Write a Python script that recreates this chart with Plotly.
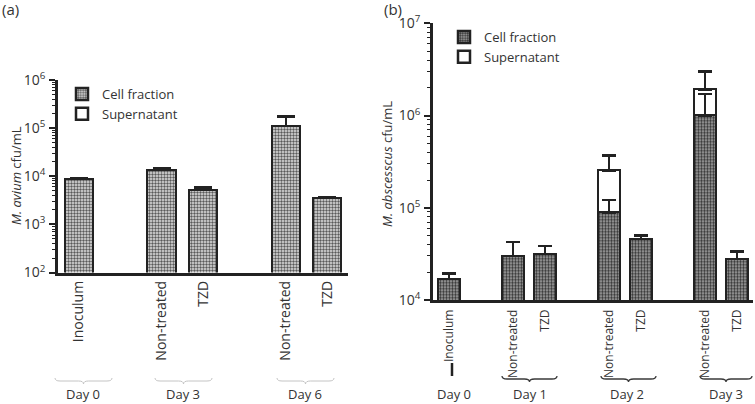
import plotly.graph_objects as go

W, H = 755, 404

# ---------------- data ----------------
# Panel (a): M. avium
a_days = ["Day 0", "Day 3", "Day 3", "Day 6", "Day 6"]
a_groups = ["Inoculum", "Non-treated", "TZD", "Non-treated", "TZD"]
a_cell = [8.8e3, 1.38e4, 5.3e3, 1.1e5, 3.5e3]
a_cell_err = [400, 1.0e3, 500, 6.4e4, 250]
a_sup = [None, None, None, None, None]

# Panel (b): M. abscessus
b_days = ["Day 0", "Day 1", "Day 1", "Day 2", "Day 2", "Day 3", "Day 3"]
b_groups = ["Inoculum", "Non-treated", "TZD", "Non-treated", "TZD", "Non-treated", "TZD"]
b_cell = [1.68e4, 3.0e4, 3.15e4, 8.9e4, 4.6e4, 1.0e6, 2.77e4]
b_cell_err = [2.7e3, 1.25e4, 7.0e3, 3.3e4, 4.0e3, 7.2e5, 6.0e3]
b_sup = [None, None, None, 1.63e5, None, 9.2e5, None]
b_sup_err = [None, None, None, 1.15e5, None, 1.07e6, None]

a_yticks = [1e2, 1e3, 1e4, 1e5, 1e6]
a_yticktext = ["10<sup>2</sup>", "10<sup>3</sup>", "10<sup>4</sup>", "10<sup>5</sup>", "10<sup>6</sup>"]
b_yticks = [1e4, 1e5, 1e6, 1e7]
b_yticktext = ["10<sup>4</sup>", "10<sup>5</sup>", "10<sup>6</sup>", "10<sup>7</sup>"]

# ---------------- helpers ----------------
FONT = "Open Sans"
TXT = "#333333"
LINE = "#222222"


def px(x):
    return x / W


def py(y):
    return 1 - y / H


def build_order(days, groups):
    order, gaps, keys = [], [], []
    prev = None
    for d, g in zip(days, groups):
        if prev is not None and d != prev:
            k = "gap%d" % len(gaps)
            gaps.append(k)
            order.append(k)
        key = d + "|" + g
        keys.append(key)
        order.append(key)
        prev = d
    return order, gaps, keys


a_order, a_gaps, a_keys = build_order(a_days, a_groups)
b_order, b_gaps, b_keys = build_order(b_days, b_groups)

fig = go.Figure()

pat_a = dict(shape=".", size=3, solidity=0.5, fgcolor="#5a5a5a", bgcolor="#e2e2e2")
pat_b = dict(shape=".", size=3, solidity=0.5, fgcolor="#333333", bgcolor="#a8a8a8")


def zeros(v):
    return [0 if e is not None else None for e in v]


fig.add_trace(go.Bar(
    x=a_keys, y=a_cell, name="Cell fraction", xaxis="x", yaxis="y",
    width=0.68, legend="legend",
    marker=dict(color="#e2e2e2", pattern=pat_a, line=dict(color=LINE, width=2.5)),
    error_y=dict(type="data", symmetric=False, array=a_cell_err, arrayminus=zeros(a_cell_err),
                 color=LINE, thickness=2.5, width=9),
))
fig.add_trace(go.Bar(
    x=a_keys, y=a_sup, name="Supernatant", xaxis="x", yaxis="y",
    width=0.68, legend="legend",
    marker=dict(color="rgba(255,255,255,0)", line=dict(color=LINE, width=2.5)),
))
fig.add_trace(go.Bar(
    x=b_keys, y=b_cell, name="Cell fraction", xaxis="x2", yaxis="y2",
    width=0.70, legend="legend2",
    marker=dict(color="#a8a8a8", pattern=pat_b, line=dict(color=LINE, width=2.5)),
    error_y=dict(type="data", symmetric=False, array=b_cell_err, arrayminus=zeros(b_cell_err),
                 color=LINE, thickness=2.5, width=7),
))
fig.add_trace(go.Bar(
    x=b_keys, y=b_sup, name="Supernatant", xaxis="x2", yaxis="y2",
    width=0.70, legend="legend2",
    marker=dict(color="rgba(255,255,255,0)", line=dict(color=LINE, width=2.5)),
    error_y=dict(type="data", symmetric=False, array=b_sup_err, arrayminus=zeros(b_sup_err),
                 color=LINE, thickness=2.5, width=7),
))

xa_dom = [px(58), px(348)]
xb_dom = [px(433), px(753)]
ya_dom = [py(272.5), py(80)]
yb_dom = [py(300), py(23.3)]

common_x = dict(type="category", categoryorder="array", showline=True, linewidth=2.5,
                linecolor=LINE, ticks="", tickangle=-90, showgrid=False, zeroline=False,
                fixedrange=True, automargin=False)
common_y = dict(type="log", showline=True, linewidth=2.5, linecolor=LINE, ticks="outside",
                ticklen=6, tickwidth=2, tickcolor=LINE, showgrid=False, zeroline=False,
                tickmode="array", tickfont=dict(size=14, color=TXT, family=FONT),
                automargin=False, ticklabelstandoff=1,
                minor=dict(ticks="outside", ticklen=3, tickwidth=1.3, tickcolor=LINE,
                           dtick="D1", showgrid=False))

gap_ax = dict(type="linear", showline=False, ticks="outside", ticklen=5, tickwidth=2,
              tickcolor=LINE, showticklabels=False, showgrid=False, zeroline=False,
              tickmode="array", automargin=False)

fig.update_layout(
    template="none",
    width=W, height=H, margin=dict(l=0, r=0, t=0, b=0, pad=0, autoexpand=False),
    paper_bgcolor="white", plot_bgcolor="white",
    barmode="stack", bargap=0,
    font=dict(family=FONT, size=13, color=TXT),
    xaxis=dict(common_x, domain=xa_dom, anchor="y", categoryarray=a_order,
               range=[-0.5, len(a_order) - 0.5], tickvals=a_keys, ticktext=a_groups,
               ticklabelstandoff=0, tickfont=dict(size=14, color=TXT, family=FONT)),
    yaxis=dict(common_y, domain=ya_dom, anchor="x", range=[2, 6],
               tickvals=a_yticks, ticktext=a_yticktext),
    xaxis2=dict(common_x, domain=xb_dom, anchor="y2", categoryarray=b_order,
                range=[-0.5, len(b_order) - 0.5], tickvals=b_keys, ticktext=b_groups,
                ticklabelstandoff=2, tickfont=dict(size=12, color=TXT, family=FONT)),
    yaxis2=dict(common_y, domain=yb_dom, anchor="x2", range=[4, 7],
                tickvals=b_yticks, ticktext=b_yticktext),
    xaxis3=dict(gap_ax, overlaying="x", anchor="y", range=[-0.5, len(a_order) - 0.5],
                tickvals=[a_order.index(g) for g in a_gaps]),
    xaxis4=dict(gap_ax, overlaying="x2", anchor="y2", range=[-0.5, len(b_order) - 0.5],
                tickvals=[b_order.index(g) for g in b_gaps]),
    legend=dict(x=px(62), y=py(79), xanchor="left", yanchor="top", bgcolor="rgba(0,0,0,0)",
                font=dict(size=13, color=TXT, family=FONT), tracegroupgap=3,
                traceorder="normal"),
    legend2=dict(x=px(444), y=py(22), xanchor="left", yanchor="top", bgcolor="rgba(0,0,0,0)",
                 font=dict(size=13, color=TXT, family=FONT), tracegroupgap=3,
                 traceorder="normal"),
    showlegend=True,
)

ann = []
# panel labels
ann.append(dict(text="(a)", x=px(0), y=py(9), xanchor="left", yanchor="middle"))
ann.append(dict(text="(b)", x=px(382), y=py(9), xanchor="left", yanchor="middle"))
# y titles
ann.append(dict(text="<i>M. avium</i> cfu/mL", x=px(16), y=py(176), textangle=-90,
                xanchor="center", yanchor="middle"))
ann.append(dict(text="<i>M. abscesscus</i> cfu/mL", x=px(387), y=py(164), textangle=-90,
                xanchor="center", yanchor="middle"))
for a in ann:
    a.update(xref="paper", yref="paper", showarrow=False,
             font=dict(family=FONT, size=15 if a["text"].startswith("(") else 13, color=TXT))

# day labels and braces
a_day_lbl = [("Day 0", 83, 55, 112), ("Day 3", 183, 155, 212), ("Day 6", 305, 277, 334)]
b_day_lbl = [("Day 0", 454, None, None), ("Day 1", 530, 502, 557),
             ("Day 2", 627, 601, 656), ("Day 3", 726, 700, 752)]

shapes = []


def brace(x0, x1, y0, color, w):
    # y0: top of ends (pixels); brace dips downward
    xm = (x0 + x1) / 2
    r = 5
    y_line = y0 + 3
    y_tip = y0 + 6
    pts = (f"M{px(x0)},{py(y0)} Q{px(x0)},{py(y_line)} {px(x0 + r)},{py(y_line)} "
           f"L{px(xm - r)},{py(y_line)} Q{px(xm)},{py(y_line)} {px(xm)},{py(y_tip)} "
           f"Q{px(xm)},{py(y_line)} {px(xm + r)},{py(y_line)} "
           f"L{px(x1 - r)},{py(y_line)} Q{px(x1)},{py(y_line)} {px(x1)},{py(y0)}")
    return dict(type="path", path=pts, xref="paper", yref="paper",
                line=dict(color=color, width=w))


for lbl, cx, x0, x1 in a_day_lbl:
    ann.append(dict(text=lbl, x=px(cx), y=py(393.5), xref="paper", yref="paper",
                    showarrow=False, xanchor="center", yanchor="middle",
                    font=dict(family=FONT, size=13, color=TXT)))
    shapes.append(brace(x0, x1, 378, "#c4c4c4", 1))

for lbl, cx, x0, x1 in b_day_lbl:
    ann.append(dict(text=lbl, x=px(cx), y=py(394), xref="paper", yref="paper",
                    showarrow=False, xanchor="center", yanchor="middle",
                    font=dict(family=FONT, size=13, color=TXT)))
    if x0 is not None:
        shapes.append(brace(x0, x1, 376, "#3a3a3a", 1.3))
    else:
        shapes.append(dict(type="line", xref="paper", yref="paper",
                           x0=px(452), x1=px(452), y0=py(363), y1=py(376),
                           line=dict(color=LINE, width=2.5)))

fig.update_layout(annotations=ann, shapes=shapes)

fig.write_html("out.html", config={"displayModeBar": False},
               post_script="document.body.style.margin='0';")
